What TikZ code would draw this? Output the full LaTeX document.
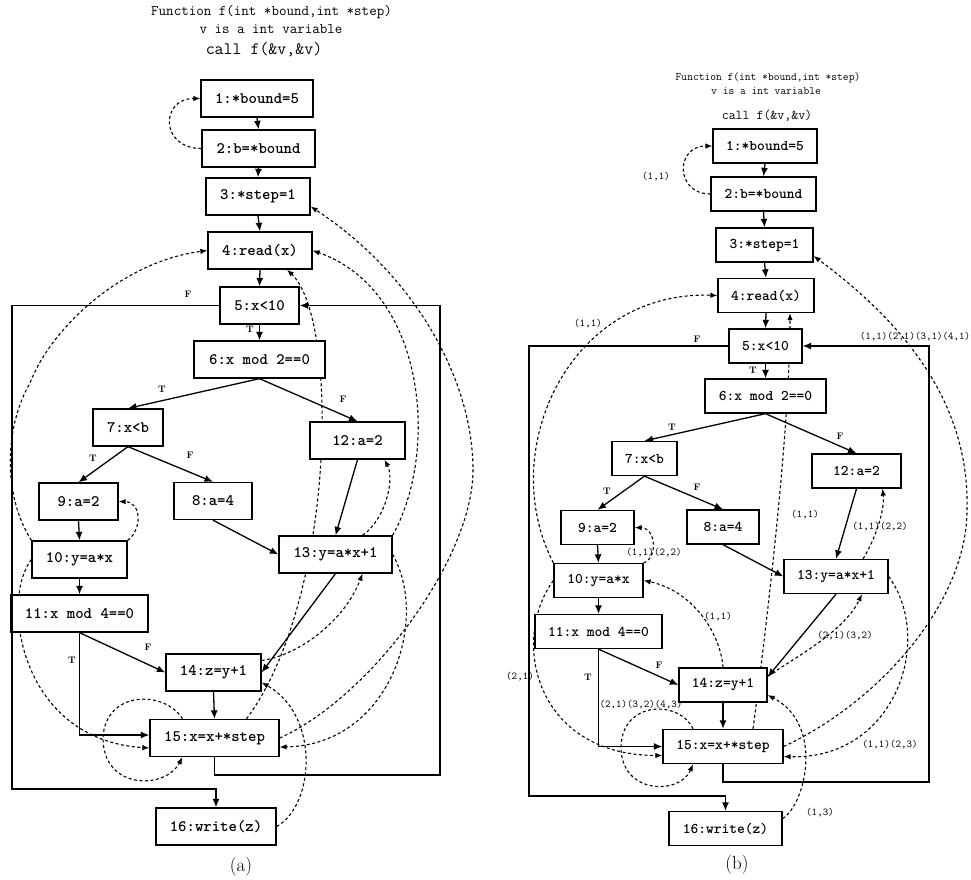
\documentclass[tikz,border=0pt]{standalone}
\usepackage{tikz}
\usetikzlibrary{arrows.meta,backgrounds}

\begin{document}
\begin{tikzpicture}[x=1pt,y=-1pt,
stmtnode/.style={rectangle, draw=black, line width=1.3pt, fill=white, minimum height=37, inner sep=0pt, font=\ttfamily\bfseries\fontsize{16}{18}\selectfont},
stmtsmall/.style={stmtnode, minimum height=34, font=\ttfamily\bfseries\fontsize{14.8}{17}\selectfont},
branchlabel/.style={inner sep=0pt, font=\bfseries\fontsize{9.5}{12}\selectfont},
pairlabel/.style={inner sep=0pt, font=\ttfamily\fontsize{10.5}{12}\selectfont},
titletext/.style={inner sep=0pt, font=\ttfamily\fontsize{14.6}{17}\selectfont},
titlesmall/.style={inner sep=0pt, font=\ttfamily\fontsize{11.2}{13}\selectfont},
captiontext/.style={inner sep=0pt, font=\fontsize{19}{22}\selectfont},
flowedge/.style={line width=1.3pt, -{Latex[length=8.5pt,width=7pt]}},
depedge/.style={line width=1.1pt, dash pattern=on 3pt off 2.5pt, -{Latex[length=7pt,width=5.5pt]}}
]
\useasboundingbox (0,0) rectangle (971,880);

%Panel (a)
\node[titletext] (atitle1) at (271.5,12.5) {Function f(int *bound,int *step)};
\node[titletext] (atitle2) at (271,29) {v is a int variable};
\node[titletext, font=\ttfamily\fontsize{17.4}{20}\selectfont] (acall) at (264,50) {call f(\&v,\&v)};

\node[stmtnode, minimum width=112] (a1) at (257,98.5) {1:*bound=5};
\node[stmtnode, minimum width=113] (a2) at (258.5,148.5) {2:b=*bound};
\node[stmtnode, minimum width=104] (a3) at (258,196.5) {3:*step=1};
\node[stmtnode, minimum width=104] (a4) at (260,250.5) {4:read(x)};
\node[stmtnode, minimum width=79] (a5) at (259.5,305.5) {5:x<10};
\node[stmtnode, minimum width=131] (a6) at (259.5,359.5) {6:x mod 2==0};
\node[stmtnode, minimum width=70] (a7) at (128,427.5) {7:x<b};
\node[stmtnode, minimum width=95] (a12) at (357.5,440.5) {12:a=2};
\node[stmtnode, minimum width=79] (a9) at (78.5,501.5) {9:a=2};
\node[stmtnode, minimum width=78] (a8) at (213,501) {8:a=4};
\node[stmtnode, minimum width=95] (a10) at (79.5,559.5) {10:y=a*x};
\node[stmtnode, minimum width=113] (a13) at (335.5,554.5) {13:y=a*x+1};
\node[stmtnode, minimum width=137] (a11) at (79.5,613.5) {11:x mod 4==0};
\node[stmtnode, minimum width=95] (a14) at (213.5,672.5) {14:z=y+1};
\node[stmtnode, minimum width=129] (a15) at (214.5,738) {15:x=x+*step};
\node[stmtnode, minimum width=120] (a16) at (216,826.5) {16:write(z)};
\node[captiontext] (acap) at (241,867) {(a)};

\node[branchlabel] (a5T) at (250,329) {T};
\node[branchlabel] (a5F) at (188,294) {F};
\node[branchlabel] (a6T) at (162,389) {T};
\node[branchlabel] (a6F) at (343,399) {F};
\node[branchlabel] (a7T) at (93,458) {T};
\node[branchlabel] (a7F) at (190,455) {F};
\node[branchlabel] (a11F) at (148,647) {F};
\node[branchlabel] (a11T) at (72,660) {T};

\coordinate (aL) at (12,789);
\coordinate (aR) at (440,775);

\draw[flowedge] (a1.south) -- (a2.north);
\draw[flowedge] (a2.south) -- (a3.north);
\draw[flowedge] (a3.south) -- (a4.north);
\draw[flowedge] (a4.south) -- (a5.north);
\draw[flowedge] (a5.south) -- (a6.north);
\draw[flowedge] (a6.south) -- (a7.north);
\draw[flowedge] (a6.south) -- (a12.north);
\draw[flowedge] (a7.south) -- (a9.north);
\draw[flowedge] (a7.south) -- (a8.north);
\draw[flowedge] (a9.south) -- (a10.north);
\draw[flowedge] (a10.south) -- (a11.north);
\draw[flowedge] (a8.south) -- (a13.west);
\draw[flowedge] (a12.south) -- (a13.north);
\draw[flowedge] (a11.south) -- (a14.west);
\draw[flowedge] (a11.south) |- ([yshift=3pt]a15.west);
\draw[flowedge] (a13.south) -- (a14.east);
\draw[flowedge] (a14.south) -- (a15.north);
\draw[flowedge] (a5.west) -| (aL) -| (a16.north);
\draw[flowedge] (a15.south) |- (aR) |- (a5.east);

\begin{scope}[on background layer]
\draw[depedge] (a2.west) .. controls (160,148.5) and (160,98.5) .. (a1.west);
\draw[depedge] (a10.north east) .. controls (142,530) and (142,502) .. (a9.east);
\draw[depedge] (a10.north west) .. controls (2,494) and (5,426) .. (30,383) .. controls (50,330) and (120,262) .. (a4.west);
\draw[depedge] (a10.west) .. controls (0,600) and (20,740) .. ([yshift=-10pt]a15.west);
\draw[depedge] ([xshift=-32pt]a15.north) .. controls (165,690) and (105,690) .. (103,738) .. controls (103,790) and (165,790) .. ([xshift=-32pt]a15.south);
\draw[depedge] ([xshift=32pt]a15.north) .. controls (335,600) and (340,320) .. ([xshift=27pt]a4.south);
\draw[depedge] (a13.north east) .. controls (440,450) and (425,290) .. (a4.east);
\draw[depedge] (a15.east) .. controls (369,698) and (473,560) .. (473,470) .. controls (473,380) and (415,275) .. ([yshift=-10pt]a3.east);
\draw[depedge] (a13.east) .. controls (430,620) and (390,745) .. ([yshift=-9pt]a15.east);
\draw[depedge] ([xshift=27pt]a13.north) .. controls (385,520) and (395,480) .. ([xshift=27pt]a12.south);
\draw[depedge] ([yshift=12pt]a14.east) .. controls (300,655) and (345,620) .. ([xshift=27pt]a13.south);
\draw[depedge] (a16.east) .. controls (315,805) and (320,715) .. ([yshift=-10pt]a14.east);
\end{scope}

%Panel (b)
\node[titlesmall] (btitle1) at (768,78) {Function f(int *bound,int *step)};
\node[titlesmall] (btitle2) at (766,91.5) {v is a int variable};
\node[titlesmall, font=\ttfamily\fontsize{13.5}{16}\selectfont] (bcall) at (767,116) {call f(\&v,\&v)};

\node[stmtsmall, minimum width=104] (b1) at (765,146) {1:*bound=5};
\node[stmtsmall, minimum width=105] (b2) at (763.5,194) {2:b=*bound};
\node[stmtsmall, minimum width=97] (b3) at (764.5,245) {3:*step=1};
\node[stmtsmall, minimum width=96] (b4) at (766,295.5) {4:read(x)};
\node[stmtsmall, minimum width=73] (b5) at (765.5,346) {5:x<10};
\node[stmtsmall, minimum width=121] (b6) at (765.5,396) {6:x mod 2==0};
\node[stmtsmall, minimum width=65] (b7) at (644.5,458.5) {7:x<b};
\node[stmtsmall, minimum width=89] (b12) at (856.5,471) {12:a=2};
\node[stmtsmall, minimum width=73] (b9) at (597.5,527.5) {9:a=2};
\node[stmtsmall, minimum width=72] (b8) at (723,527) {8:a=4};
\node[stmtsmall, minimum width=89] (b10) at (598.5,580.5) {10:y=a*x};
\node[stmtsmall, minimum width=104] (b13) at (836,576.5) {13:y=a*x+1};
\node[stmtsmall, minimum width=127] (b11) at (598.5,631.5) {11:x mod 4==0};
\node[stmtsmall, minimum width=88] (b14) at (723,685) {14:z=y+1};
\node[stmtsmall, minimum width=120] (b15) at (723,746.5) {15:x=x+*step};
\node[stmtsmall, minimum width=113] (b16) at (725.5,828.5) {16:write(z)};
\node[captiontext] (bcap) at (737,865) {(b)};

\node[branchlabel] (b5T) at (753,370) {T};
\node[branchlabel] (b5F) at (697,339) {F};
\node[branchlabel] (b6T) at (672,427) {T};
\node[branchlabel] (b6F) at (840,436) {F};
\node[branchlabel] (b7T) at (607,491) {T};
\node[branchlabel] (b7F) at (697,487) {F};
\node[branchlabel] (b11F) at (659,665) {F};
\node[branchlabel] (b11T) at (588,677) {T};

\node[pairlabel] (p21) at (656,177) {(1,1)};
\node[pairlabel] (p104) at (588,324) {(1,1)};
\node[pairlabel] (p153) at (915,337) {(1,1)(2,1)(3,1)(4,1)};
\node[pairlabel] (p109) at (654,553) {(1,1)(2,2)};
\node[pairlabel] (p1312) at (880,527) {(1,1)(2,2)};
\node[pairlabel] (p154) at (805,515) {(1,1)};
\node[pairlabel] (p1410) at (718,617) {(1,1)};
\node[pairlabel] (p1413) at (845,636) {(2,1)(3,2)};
\node[pairlabel] (p1015) at (520,677) {(2,1)};
\node[pairlabel] (p1515) at (641,705) {(2,1)(3,2)(4,3)};
\node[pairlabel] (p1315) at (890,745) {(1,1)(2,3)};
\node[pairlabel] (p1614) at (820,813) {(1,3)};

\coordinate (bL) at (529,796);
\coordinate (bR) at (929,782);

\draw[flowedge] (b1.south) -- (b2.north);
\draw[flowedge] (b2.south) -- (b3.north);
\draw[flowedge] (b3.south) -- (b4.north);
\draw[flowedge] (b4.south) -- (b5.north);
\draw[flowedge] (b5.south) -- (b6.north);
\draw[flowedge] (b6.south) -- (b7.north);
\draw[flowedge] (b6.south) -- (b12.north);
\draw[flowedge] (b7.south) -- (b9.north);
\draw[flowedge] (b7.south) -- (b8.north);
\draw[flowedge] (b9.south) -- (b10.north);
\draw[flowedge] (b10.south) -- (b11.north);
\draw[flowedge] (b8.south) -- (b13.west);
\draw[flowedge] (b12.south) -- (b13.north);
\draw[flowedge] (b11.south) -- (b14.west);
\draw[flowedge] (b11.south) |- (b15.west);
\draw[flowedge] (b13.south) -- ([yshift=8pt]b14.east);
\draw[flowedge] (b14.south) -- (b15.north);
\draw[flowedge] (b5.west) -| (bL) -| (b16.north);
\draw[flowedge] (b15.south) |- (bR) |- (b5.east);

\begin{scope}[on background layer]
\draw[depedge] (b2.west) .. controls (675,194) and (675,146) .. (b1.west);
\draw[depedge] (b10.north east) .. controls (658,558) and (656,528) .. (b9.east);
\draw[depedge] (b10.north west) .. controls (495,450) and (570,290) .. (b4.west);
\draw[depedge] (b10.west) .. controls (510,640) and (535,755) .. ([yshift=-9pt]b15.west);
\draw[depedge] ([xshift=-30pt]b15.north) .. controls (680,700) and (622,700) .. (621,747) .. controls (621,795) and (680,795) .. ([xshift=-30pt]b15.south);
\draw[depedge] ([xshift=30pt]b15.north) .. controls (770,600) and (790,420) .. ([xshift=24pt]b4.south);
\draw[depedge] (b14.north) .. controls (720,630) and (690,590) .. (b10.east);
\draw[depedge] (b15.east) .. controls (883,700) and (967,600) .. (967,510) .. controls (970,400) and (900,320) .. ([yshift=-11pt]b3.east);
\draw[depedge] (b13.east) .. controls (935,640) and (895,760) .. ([yshift=-10pt]b15.east);
\draw[depedge] ([xshift=27pt]b13.north) .. controls (875,540) and (885,510) .. ([xshift=26pt]b12.south);
\draw[depedge] ([yshift=9pt]b14.east) .. controls (800,655) and (845,630) .. ([xshift=26pt]b13.south);
\draw[depedge] ([yshift=10pt]b16.east) .. controls (805,805) and (825,725) .. ([yshift=-10pt]b14.east);
\end{scope}

\end{tikzpicture}
\end{document}
